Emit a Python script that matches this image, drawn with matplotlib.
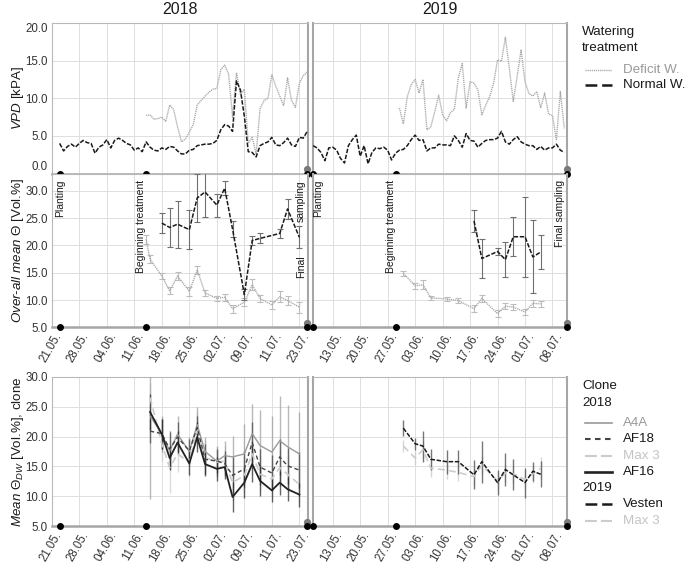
import numpy as np
import pandas as pd
import matplotlib
matplotlib.use("Agg")
import matplotlib.pyplot as plt
import matplotlib.dates as mdates
import matplotlib.transforms as mtransforms

plt.rcParams['font.family'] = ['Liberation Sans', 'DejaVu Sans']
plt.rcParams['mathtext.fontset'] = 'custom'
plt.rcParams['mathtext.rm'] = 'Liberation Sans'
plt.rcParams['mathtext.it'] = 'Liberation Sans:italic'
plt.rcParams['lines.scale_dashes'] = False

# ---------------- data ----------------
year_labels = ["2018", "2019"]

xtick_dates_2018 = ["2018-05-21", "2018-05-28", "2018-06-04", "2018-06-11", "2018-06-18",
                    "2018-06-25", "2018-07-02", "2018-07-09", "2018-07-16", "2018-07-23"]
xtick_labels_2018 = ["21.05.", "28.05.", "04.06.", "11.06.", "18.06.", "25.06.", "02.07.",
                     "09.07.", "11.07.", "23.07."]
xtick_dates_2019 = ["2019-05-13", "2019-05-20", "2019-05-27", "2019-06-03", "2019-06-10",
                    "2019-06-17", "2019-06-24", "2019-07-01", "2019-07-08"]
xtick_labels_2019 = ["13.05.", "20.05.", "27.05.", "03.06.", "10.06.", "17.06.", "24.06.",
                     "01.07.", "08.07."]
ytick_vpd = [0.0, 5.0, 10.0, 15.0, 20.0]
ytick_theta = [5.0, 10.0, 15.0, 20.0, 25.0, 30.0]

event_names = ["Planting", "Beginning treatment", "Final sampling"]
event_dates_2018 = ["2018-05-23 00:00", "2018-06-14 00:00", "2018-07-25 00:00"]
event_dates_2019 = ["2019-05-08 00:00", "2019-05-29 00:00", "2019-07-11 16:00"]

# VPD (daily)
vpd_normal_2018_start = "2018-05-23"
vpd_normal_2018 = [4.0, 3.0, 3.6, 3.9, 3.5, 4.0, 4.4, 4.1, 4.0, 2.7,
                   3.5, 3.8, 4.5, 3.4, 4.4, 4.7, 4.4, 4.0, 3.8, 3.1,
                   3.4, 2.9, 4.2, 3.5, 3.1, 3.0, 3.4, 3.2, 3.6, 3.5,
                   3.0, 2.6, 2.6, 3.1, 3.2, 3.7, 3.8, 3.9, 3.9, 4.0,
                   4.4, 5.8, 6.5, 6.3, 5.6, 12.3, 11.1, 7.6, 2.9, 2.8,
                   2.2, 3.7, 4.0, 4.2, 4.8, 3.8, 3.7, 4.1, 4.7, 3.8,
                   3.6, 4.8, 4.7, 5.6]
vpd_deficit_2018_start = "2018-06-14"
vpd_deficit_2018 = [7.7, 7.8, 7.2, 7.3, 7.5, 6.9, 9.1, 8.5, 6.2, 4.2,
                    4.6, 5.5, 6.5, 9.1, 9.7, 10.3, 10.8, 11.2, 11.3, 13.8,
                    14.4, 13.2, 7.5, 13.4, 10.5, 11.2, 4.0, 4.8, 2.6, 8.6,
                    9.7, 10.0, 13.1, 11.6, 10.3, 9.0, 12.7, 9.7, 8.8, 12.0,
                    13.0, 13.5]
vpd_normal_2019_start = "2019-05-08"
vpd_normal_2019 = [3.7, 3.4, 2.8, 1.7, 3.4, 3.5, 3.1, 2.0, 1.4, 3.7,
                   4.5, 5.1, 2.3, 3.7, 1.3, 2.8, 3.4, 3.3, 3.5, 3.1,
                   1.8, 2.7, 3.1, 3.2, 3.7, 4.5, 5.1, 4.4, 4.5, 3.0,
                   3.4, 3.4, 3.9, 3.8, 3.8, 3.7, 5.0, 4.4, 3.5, 5.3,
                   4.4, 4.3, 3.5, 4.0, 4.4, 4.5, 4.5, 4.7, 5.6, 4.2,
                   3.9, 4.5, 4.9, 4.2, 3.9, 3.7, 3.7, 3.2, 3.6, 3.1,
                   3.4, 3.4, 3.9, 3.1, 2.8]
vpd_deficit_2019_start = "2019-05-30"
vpd_deficit_2019 = [8.7, 6.6, 10.2, 11.8, 12.5, 10.7, 12.5, 5.8, 6.2, 8.2,
                    10.4, 7.8, 7.0, 8.1, 8.5, 12.7, 14.6, 8.7, 12.2, 12.0,
                    11.1, 7.8, 9.1, 10.2, 12.0, 15.1, 14.9, 18.1, 14.0, 9.6,
                    12.9, 16.4, 12.2, 10.6, 10.3, 10.9, 8.7, 10.7, 7.9, 7.7,
                    4.5, 10.9, 6.0]

# Over-all mean soil moisture (mean and SD)
theta_normal_2018_dates = ["2018-06-18", "2018-06-20", "2018-06-22", "2018-06-25", "2018-06-27",
                           "2018-06-29", "2018-07-02", "2018-07-04", "2018-07-06", "2018-07-09",
                           "2018-07-11", "2018-07-13", "2018-07-18", "2018-07-20", "2018-07-23"]
theta_normal_2018 = [24.1, 23.3, 23.9, 22.9, 28.7, 29.8, 27.4, 30.5, 23.0, 11.0,
                     20.9, 21.3, 22.2, 26.7, 21.5]
theta_normal_2018_sd = [1.9, 3.6, 4.3, 3.6, 4.4, 4.5, 2.1, 1.3, 1.5, 1.0,
                        0.8, 0.9, 0.9, 1.8, 2.0]
theta_deficit_2018_dates = ["2018-06-14", "2018-06-15", "2018-06-18", "2018-06-20", "2018-06-22",
                            "2018-06-25", "2018-06-27", "2018-06-29", "2018-07-02", "2018-07-04",
                            "2018-07-06", "2018-07-09", "2018-07-11", "2018-07-13", "2018-07-16",
                            "2018-07-18", "2018-07-20", "2018-07-23"]
theta_deficit_2018 = [21.1, 17.5, 14.4, 11.7, 14.4, 11.6, 15.5, 11.3, 10.3, 10.5,
                      8.4, 9.6, 12.8, 10.3, 9.1, 10.6, 9.9, 8.7]
theta_deficit_2018_sd = [0.8, 0.8, 0.5, 0.6, 0.7, 0.8, 0.8, 0.6, 0.4, 0.6,
                         0.7, 0.7, 1.0, 0.7, 0.8, 1.0, 0.9, 1.0]
theta_normal_2019_dates = ["2019-06-18", "2019-06-20", "2019-06-24", "2019-06-26",
                           "2019-06-28", "2019-07-01", "2019-07-03", "2019-07-05"]
theta_normal_2019 = [24.5, 17.6, 18.9, 17.4, 21.6, 21.6, 17.9, 18.8]
theta_normal_2019_sd = [2.0, 3.5, 0.6, 3.2, 3.6, 7.3, 6.7, 3.1]
theta_deficit_2019_dates = ["2019-05-31", "2019-06-03", "2019-06-05", "2019-06-07", "2019-06-11",
                            "2019-06-14", "2019-06-18", "2019-06-20", "2019-06-24", "2019-06-26",
                            "2019-06-28", "2019-07-01", "2019-07-03", "2019-07-05"]
theta_deficit_2019 = [14.9, 12.6, 12.8, 10.4, 10.2, 9.9, 8.4, 10.3, 7.5, 8.9, 8.7, 7.8, 9.4, 9.3]
theta_deficit_2019_sd = [0.5, 0.6, 0.8, 0.4, 0.4, 0.4, 0.6, 0.7, 0.6, 0.6, 0.5, 0.5, 0.6, 0.6]

# Mean soil moisture per clone (deficit watering)
clone_dates_2018 = ["2018-06-15", "2018-06-18", "2018-06-20", "2018-06-22", "2018-06-25",
                    "2018-06-27", "2018-06-29", "2018-07-02", "2018-07-04", "2018-07-06",
                    "2018-07-09", "2018-07-11", "2018-07-13", "2018-07-16", "2018-07-18",
                    "2018-07-20", "2018-07-23"]
clone_a4a = [23.5, 20.4, 17.6, 20.4, 17.5, 22.0, 17.5, 15.9, 16.8, 16.6, 17.1, 20.5, 18.5, 17.4, 19.3, 18.3, 17.1]
clone_a4a_sd = [14.0, 3.0, 3.0, 3.0, 2.5, 3.0, 2.5, 2.5, 2.5, 3.5, 5.0, 5.0, 6.0, 6.0, 7.5, 7.0, 7.0]
clone_af18 = [20.9, 20.5, 17.9, 19.9, 17.6, 21.5, 16.2, 15.9, 15.5, 13.5, 14.6, 19.0, 14.9, 13.9, 16.6, 15.1, 14.4]
clone_af18_sd = [2.0, 2.5, 3.0, 2.5, 2.0, 2.0, 2.5, 2.0, 2.0, 3.0, 3.0, 3.5, 3.0, 3.0, 3.0, 3.0, 3.0]
clone_max3_2018 = [26.5, 18.8, 14.8, 17.1, 15.7, 21.1, 16.5, 15.7, 15.9, 12.3, 13.5, 17.1, 13.7, 12.9, 14.8, 13.7, 12.0]
clone_max3_2018_sd = [2.5, 3.0, 4.3, 3.0, 2.5, 3.0, 3.0, 2.5, 2.5, 3.0, 3.0, 3.5, 3.0, 3.0, 3.0, 3.0, 3.0]
clone_af16 = [24.1, 20.4, 16.4, 19.0, 15.5, 19.9, 15.4, 14.6, 14.9, 9.9, 12.3, 15.4, 12.6, 11.0, 12.3, 11.2, 10.3]
clone_af16_sd = [3.0, 2.5, 2.0, 2.0, 2.0, 2.5, 2.0, 2.0, 2.0, 2.5, 2.5, 3.0, 2.5, 2.0, 2.0, 2.0, 2.0]
clone_dates_2019 = ["2019-05-31", "2019-06-03", "2019-06-05", "2019-06-07", "2019-06-11",
                    "2019-06-14", "2019-06-18", "2019-06-20", "2019-06-24", "2019-06-26",
                    "2019-06-28", "2019-07-01", "2019-07-03", "2019-07-05"]
clone_vesten = [21.4, 18.8, 18.4, 16.2, 15.8, 15.8, 13.6, 15.8, 12.3, 14.5, 13.6, 12.3, 14.2, 13.7]
clone_vesten_sd = [1.3, 1.0, 2.6, 1.8, 2.0, 2.0, 2.4, 3.5, 2.1, 2.7, 2.6, 2.5, 1.6, 2.2]
clone_max3_2019 = [18.4, 16.4, 17.8, 14.7, 14.4, 14.0, 13.3, 15.2, 12.6, 13.9, 13.8, 12.8, 13.8, 14.7]
clone_max3_2019_sd = [1.0, 1.2, 1.5, 1.5, 1.5, 1.5, 1.5, 1.5, 1.5, 1.5, 1.5, 1.5, 1.5, 1.8]

# ---------------- helpers ----------------
def d2n(s):
    return mdates.date2num(pd.Timestamp(s))

def d2n_list(lst):
    return mdates.date2num(pd.to_datetime(lst, format="ISO8601"))

def daily(start, vals):
    return mdates.date2num(pd.date_range(start, periods=len(vals), freq="D"))

W, H, DPI = 685, 567, 100
fig = plt.figure(figsize=(W / DPI, H / DPI), dpi=DPI)

def px_axes(x0, x1, y0, y1):
    return fig.add_axes([x0 / W, 1 - y1 / H, (x1 - x0) / W, (y1 - y0) / H])

col_px = [(51.8, 308.0), (312.7, 567.0)]
row_px = [(23.0, 173.5), (174.0, 327.3), (376.7, 526.3)]
row_ylim = [(0, 20), (5, 33.1), (5, 30)]
row_yticks = [ytick_vpd, ytick_theta, ytick_theta]
xlims = [(d2n("2018-05-21"), d2n("2018-05-21") + 65.2),
         (d2n("2019-05-13") - 5.1, d2n("2019-05-13") + 59.7)]
xt = [(xtick_dates_2018, xtick_labels_2018), (xtick_dates_2019, xtick_labels_2019)]
events = [event_dates_2018, event_dates_2019]

GRID = "#dedede"
EDGE = "#b8b8b8"
THICK = "#a6a6a6"

axes = [[None, None] for _ in range(3)]
for r in range(3):
    for c in range(2):
        ax = px_axes(col_px[c][0], col_px[c][1], row_px[r][0], row_px[r][1])
        ax.set_xlim(xlims[c])
        ax.set_ylim(row_ylim[r])
        ax.set_xticks(d2n_list(xt[c][0]))
        ax.set_yticks(row_yticks[r])
        ax.grid(True, color=GRID, lw=0.7)
        ax.set_axisbelow(True)
        ax.tick_params(length=0, labelsize=8.3, colors="#333333", pad=3)
        ax.tick_params(axis="x", pad=4.5)
        if c == 0:
            ax.set_yticklabels([f"{v:.1f}" for v in row_yticks[r]])
            if r == 0:
                labs = ax.get_yticklabels()
                labs[0].set_va("bottom")
                labs[-1].set_va("top")
        else:
            ax.set_yticklabels([])
        if r == 0:
            ax.set_xticklabels([])
        else:
            ax.set_xticklabels(xt[c][1], rotation=60, ha="right", va="center",
                               rotation_mode="anchor")
            off = mtransforms.ScaledTranslation(7 / DPI, 0, fig.dpi_scale_trans)
            for lab in ax.get_xticklabels():
                lab.set_transform(lab.get_transform() + off)
        for s in ax.spines.values():
            s.set_color(EDGE)
            s.set_linewidth(0.8)
        ax.spines["bottom"].set_color(THICK)
        ax.spines["bottom"].set_linewidth(1.8)
        ax.spines["right"].set_color(THICK)
        ax.spines["right"].set_linewidth(1.5)
        if c == 1:
            ax.spines["left"].set_color(THICK)
            ax.spines["left"].set_linewidth(1.5)
        axes[r][c] = ax

# event dots on the bottom line of every panel
for r in range(3):
    for c in range(2):
        ax = axes[r][c]
        xs = d2n_list(events[c])
        y0 = ax.get_ylim()[0]
        up = mtransforms.offset_copy(ax.transData, fig=fig, x=0, y=4.5, units="dots")
        ax.plot([xs[-1]], [y0], "o", color="#7a7a7a", ms=5.2, mec="none",
                transform=up, clip_on=False, zorder=6)
        ax.plot(xs, [y0] * len(xs), "o", color="black", ms=5, mec="none",
                clip_on=False, zorder=7)

# ---- row 1: VPD ----
DEF_C = "#a9a9a9"
NOR_C = "#1a1a1a"
DOT = (0, (0.9, 0.6))
DASH = (0, (3.2, 1.2))
for c, (ns, nv, ds, dv) in enumerate([
        (vpd_normal_2018_start, vpd_normal_2018, vpd_deficit_2018_start, vpd_deficit_2018),
        (vpd_normal_2019_start, vpd_normal_2019, vpd_deficit_2019_start, vpd_deficit_2019)]):
    ax = axes[0][c]
    ax.plot(daily(ds, dv), dv, color=DEF_C, lw=1.0, ls=DOT, zorder=3)
    ax.plot(daily(ns, nv), nv, color=NOR_C, lw=1.1, ls=DASH, zorder=4)

# ---- row 2: over-all mean theta ----
for c, (nd, nv, ne, dd, dv, de) in enumerate([
        (theta_normal_2018_dates, theta_normal_2018, theta_normal_2018_sd,
         theta_deficit_2018_dates, theta_deficit_2018, theta_deficit_2018_sd),
        (theta_normal_2019_dates, theta_normal_2019, theta_normal_2019_sd,
         theta_deficit_2019_dates, theta_deficit_2019, theta_deficit_2019_sd)]):
    ax = axes[1][c]
    ax.errorbar(d2n_list(dd), dv, yerr=de, fmt="none", ecolor="#bdbdbd",
                elinewidth=0.8, capsize=2, capthick=0.8, zorder=3)
    ax.plot(d2n_list(dd), dv, color=DEF_C, lw=1.0, ls=DOT, zorder=3)
    ax.errorbar(d2n_list(nd), nv, yerr=ne, fmt="none", ecolor="#707070",
                elinewidth=0.8, capsize=2, capthick=0.8, zorder=4)
    ax.plot(d2n_list(nd), nv, color=NOR_C, lw=1.1, ls=DASH, zorder=5)

# event annotations
ANN = dict(rotation=90, fontsize=7.5, color="#1a1a1a", va="top")
for c in range(2):
    ax = axes[1][c]
    tr = mtransforms.blended_transform_factory(ax.transData, ax.transAxes)
    xs = d2n_list(events[c])
    ax.text(xs[0], 0.961, event_names[0], transform=tr, ha="center" if c == 0 else "left", **ANN)
    ax.text(xs[1], 0.961, event_names[1], transform=tr, ha="right", **ANN)
    if c == 0:
        w1, w2 = event_names[2].split(" ")
        ax.text(xs[2] - 0.4, 0.961, w2, transform=tr, ha="right", **ANN)
        ax.text(xs[2] - 0.4, 0.47, w1, transform=tr, ha="right", **ANN)
    else:
        ax.text(xs[2] - 0.4, 0.961, event_names[2], transform=tr, ha="right", **ANN)

# ---- row 3: clones ----
A4A_C, AF18_C, MAX3_C, AF16_C, VES_C = "#9a9a9a", "#444444", "#cccccc", "#222222", "#1a1a1a"
clone_specs_2018 = [
    (clone_max3_2018, clone_max3_2018_sd, MAX3_C, (0, (5, 3)), 1.2),
    (clone_a4a, clone_a4a_sd, A4A_C, "-", 1.0),
    (clone_af18, clone_af18_sd, AF18_C, (0, (3, 2)), 1.0),
    (clone_af16, clone_af16_sd, AF16_C, "-", 1.3),
]
ax = axes[2][0]
x18 = d2n_list(clone_dates_2018)
for vals, sd, col, ls, lw in clone_specs_2018:
    v = np.array(vals); e = np.array(sd)
    ax.vlines(x18, v - e, v + e, colors=col, lw=1.0, alpha=0.7, zorder=3)
for vals, sd, col, ls, lw in clone_specs_2018:
    ax.plot(x18, vals, color=col, ls=ls, lw=lw, zorder=4)

ax = axes[2][1]
x19 = d2n_list(clone_dates_2019)
for vals, sd, col, ls, lw in [
        (clone_max3_2019, clone_max3_2019_sd, MAX3_C, (0, (5, 3)), 1.2),
        (clone_vesten, clone_vesten_sd, "#555555", DASH, 1.1)]:
    v = np.array(vals); e = np.array(sd)
    ax.vlines(x19, v - e, v + e, colors=col, lw=1.0, alpha=0.8, zorder=3)
ax.plot(x19, clone_max3_2019, color=MAX3_C, ls=(0, (5, 3)), lw=1.2, zorder=4)
ax.plot(x19, clone_vesten, color=VES_C, ls=DASH, lw=1.1, zorder=5)

# ---- titles & y labels ----
for c in range(2):
    xc = (col_px[c][0] + col_px[c][1]) / 2
    fig.text(xc / W, 1 - 9 / H, year_labels[c], ha="center", va="center",
             fontsize=11.5, color="#1a1a1a")
ylabels = [r"$\mathit{VPD}$ [kPA]",
           r"$\mathit{Over}$-$\mathit{all\ mean\ Θ}$ [Vol.%]",
           r"$\mathit{Mean\ Θ_{DW}}$ [Vol.%], clone"]
for r in range(3):
    yc = (row_px[r][0] + row_px[r][1]) / 2
    fig.text(18 / W, 1 - yc / H, ylabels[r], rotation=90, ha="center", va="center",
             fontsize=9.6, color="#1a1a1a")

# ---- legends (drawn in a pixel-coordinate overlay) ----
lax = fig.add_axes([0, 0, 1, 1])
lax.set_xlim(0, W)
lax.set_ylim(H, 0)
lax.axis("off")
lax.patch.set_visible(False)
LFS = 9.6
LX_T, LX_L0, LX_L1, LX_X = 582, 585, 612, 623

lax.text(LX_T, 32, "Watering", fontsize=LFS, va="center", ha="left", color="#1a1a1a")
lax.text(LX_T, 48, "treatment", fontsize=LFS, va="center", ha="left", color="#1a1a1a")
top_entries = [("Deficit W.", DEF_C, (0, (0.9, 0.6)), 1.0, 70, "#999999"),
               ("Normal W.", NOR_C, (0, (8.5, 3.5)), 1.8, 85, "#1a1a1a")]
for lab, col, ls, lw, y, tcol in top_entries:
    lax.plot([LX_L0, LX_L1], [y, y], color=col, ls=ls, lw=lw)
    lax.text(LX_X, y, lab, fontsize=LFS, va="center", ha="left", color=tcol)

lax.text(LX_T, 386, "Clone", fontsize=LFS, va="center", ha="left", color="#1a1a1a")
lax.text(LX_T, 403, year_labels[0], fontsize=LFS, va="center", ha="left", color="#1a1a1a")
lax.text(LX_T, 488, year_labels[1], fontsize=LFS, va="center", ha="left", color="#1a1a1a")
clone_entries = [("A4A", A4A_C, "-", 1.2, 423, "#9a9a9a"),
                 ("AF18", AF18_C, (0, (4, 3.2)), 1.5, 439, "#1a1a1a"),
                 ("Max 3", MAX3_C, (0, (8.5, 3)), 1.5, 456, "#c4c4c4"),
                 ("AF16", AF16_C, "-", 1.9, 472, "#1a1a1a"),
                 ("Vesten", VES_C, (0, (8.5, 3.5)), 1.8, 504, "#1a1a1a"),
                 ("Max 3", MAX3_C, (0, (8.5, 3)), 1.5, 521, "#c4c4c4")]
for lab, col, ls, lw, y, tcol in clone_entries:
    lax.plot([LX_L0, LX_L1], [y, y], color=col, ls=ls, lw=lw)
    lax.text(LX_X, y, lab, fontsize=LFS, va="center", ha="left", color=tcol)

fig.savefig("out.png", dpi=DPI)
